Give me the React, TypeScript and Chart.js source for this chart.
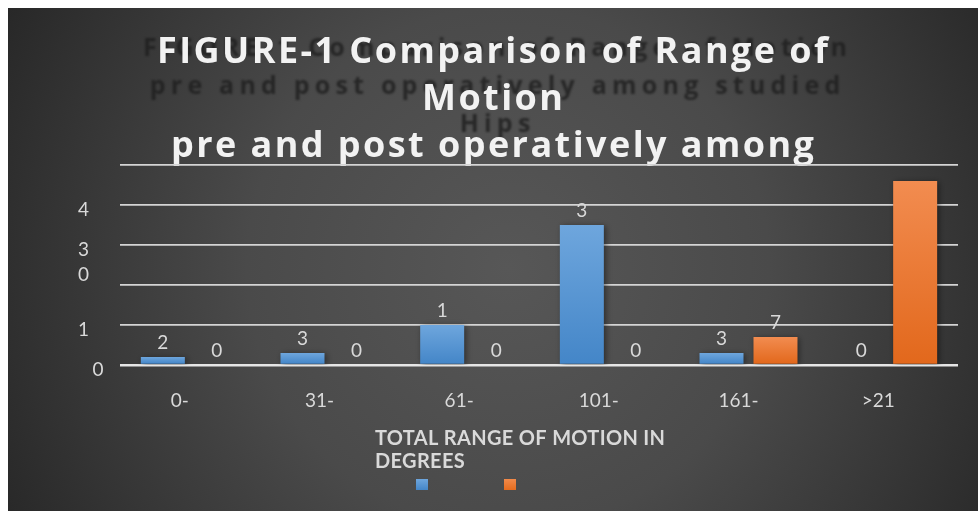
import React, { useEffect, useRef } from 'react';
import { Chart, registerables } from 'chart.js';

Chart.register(...registerables);

const CATEGORIES = ['0-', '31-', '61-', '101-', '161-', '>21'];
const PRE_VALUES = [2, 3, 10, 35, 3, 0];
const POST_VALUES = [0, 0, 0, 0, 7, 46];
const PRE_LABELS = ['2', '3', '1', '3', '3', '0'];
const POST_LABELS = ['0', '0', '0', '0', '7', ''];
const Y_TICK_VALUES = [0, 10, 20, 30, 40, 50];
const Y_TICK_LABELS: (string | string[])[] = ['   0', '1', '', ['', '3', '0'], '4', ''];
const TITLE_LINES = ['FIGURE-1 Comparison of Range of', 'Motion', 'pre and post operatively among'];
const GHOST_LINES = ['FIGURE-1 Comparison of Range of Motion', 'pre and post operatively among studied', 'Hips'];
const AXIS_TITLE_LINES = ['TOTAL RANGE OF MOTION IN', 'DEGREES'];

const FONT = 'Lato, "Open Sans", sans-serif';
const TITLE_FONT = '"Open Sans", Lato, sans-serif';
const TEXT = '#d9d9d9';

function spacingFor(ctx: CanvasRenderingContext2D, text: string, target: number) {
  (ctx as any).letterSpacing = '0px';
  const w0 = ctx.measureText(text).width;
  return (target - w0) / (text.length - 1);
}

function drawSpaced(ctx: CanvasRenderingContext2D, text: string, cx: number, y: number, ls: number) {
  (ctx as any).letterSpacing = '0px';
  const w0 = ctx.measureText(text).width;
  const w = w0 + ls * (text.length - 1);
  (ctx as any).letterSpacing = `${ls}px`;
  ctx.textAlign = 'left';
  ctx.fillText(text, cx - w / 2, y);
  (ctx as any).letterSpacing = '0px';
}

function barFill(top: string, bottom: string, solid: string) {
  return (c: any) => {
    const el = c.element;
    if (!el || !Number.isFinite(el.y) || !Number.isFinite(el.base) || Math.abs(el.base - el.y) < 1) return solid;
    const g = c.chart.ctx.createLinearGradient(0, el.y, 0, el.base);
    g.addColorStop(0, top);
    g.addColorStop(1, bottom);
    return g;
  };
}

const decor = {
  id: 'decor',
  beforeDraw(chart: any) {
    const { ctx, width, height } = chart;
    ctx.save();
    const g = ctx.createRadialGradient(500, 260, 0, 500, 260, 580);
    g.addColorStop(0, '#575757');
    g.addColorStop(0.45, '#4a4a4a');
    g.addColorStop(1, '#262626');
    ctx.fillStyle = g;
    ctx.fillRect(0, 0, width, height);

    // blurred ghost title behind the main one
    ctx.font = `bold 25px ${TITLE_FONT}`;
    ctx.fillStyle = 'rgba(30,30,30,0.8)';
    ctx.textBaseline = 'alphabetic';
    ctx.filter = 'blur(1.2px)';
    const gls = spacingFor(ctx, GHOST_LINES[0], 704);
    const ghostY = [48, 86, 124];
    GHOST_LINES.forEach((t, i) => drawSpaced(ctx, t, 487, ghostY[i], gls));
    ctx.filter = 'none';

    // main title
    ctx.font = `bold 36px ${TITLE_FONT}`;
    ctx.fillStyle = '#f2f2f2';
    const tls = spacingFor(ctx, TITLE_LINES[0], 671);
    const titleY = [55, 102, 149];
    TITLE_LINES.forEach((t, i) => drawSpaced(ctx, t, 484.5, titleY[i], tls));
    ctx.restore();
  },
  beforeDatasetsDraw(chart: any) {
    const ctx = chart.ctx;
    ctx.save();
    ctx.shadowColor = 'rgba(0,0,0,0.45)';
    ctx.shadowBlur = 6;
    ctx.shadowOffsetX = 2;
    ctx.shadowOffsetY = 1;
  },
  afterDatasetsDraw(chart: any) {
    const ctx = chart.ctx;
    ctx.restore();
    ctx.save();
    ctx.font = `19px ${FONT}`;
    ctx.fillStyle = TEXT;
    ctx.textAlign = 'center';
    ctx.textBaseline = 'middle';
    const labelSets = [PRE_LABELS, POST_LABELS];
    labelSets.forEach((labels, di) => {
      const meta = chart.getDatasetMeta(di);
      meta.data.forEach((el: any, i: number) => {
        const txt = labels[i];
        if (txt) ctx.fillText(txt, el.x, el.y - 14);
      });
    });
    ctx.restore();
  },
  afterDraw(chart: any) {
    const ctx = chart.ctx;
    ctx.save();
    ctx.font = `bold 20px ${FONT}`;
    ctx.fillStyle = TEXT;
    ctx.textAlign = 'left';
    ctx.textBaseline = 'alphabetic';
    const als = spacingFor(ctx, AXIS_TITLE_LINES[0], 290);
    (ctx as any).letterSpacing = `${als}px`;
    ctx.fillText(AXIS_TITLE_LINES[0], 367, 437);
    ctx.fillText(AXIS_TITLE_LINES[1], 367, 460);
    (ctx as any).letterSpacing = '0px';

    // legend markers
    const lb = ctx.createLinearGradient(0, 471, 0, 482);
    lb.addColorStop(0, '#6ea6dd');
    lb.addColorStop(1, '#4486c8');
    ctx.fillStyle = lb;
    ctx.fillRect(408, 471, 12, 11);
    const lo = ctx.createLinearGradient(0, 471, 0, 482);
    lo.addColorStop(0, '#f28a4a');
    lo.addColorStop(1, '#e66c1e');
    ctx.fillStyle = lo;
    ctx.fillRect(496, 471, 12, 11);
    ctx.restore();
  },
};

export default function App() {
  const ref = useRef<HTMLCanvasElement>(null);

  useEffect(() => {
    if (!ref.current) return;
    const chart = new Chart(ref.current, {
      type: 'bar',
      data: {
        labels: CATEGORIES,
        datasets: [
          {
            label: '',
            data: PRE_VALUES,
            backgroundColor: barFill('#6ea6dd', '#4486c8', '#5a9ad6'),
            categoryPercentage: 0.773,
            barPercentage: 0.815,
          },
          {
            label: '',
            data: POST_VALUES,
            backgroundColor: barFill('#f28c50', '#e2681c', '#ee7a30'),
            categoryPercentage: 0.773,
            barPercentage: 0.815,
          },
        ],
      },
      options: {
        responsive: false,
        animation: false,
        events: [],
        layout: { padding: { left: 70, right: 20, top: 157, bottom: 0 } },
        plugins: {
          legend: { display: false },
          title: { display: false },
          tooltip: { enabled: false },
        },
        scales: {
          x: {
            grid: { display: false, drawTicks: false },
            border: { display: false },
            ticks: {
              color: TEXT,
              font: { family: FONT, size: 19 },
              padding: 24,
              labelOffset: -10,
              autoSkip: false,
              maxRotation: 0,
            },
            afterFit: (s: any) => {
              s.height = 146;
            },
          },
          y: {
            min: 0,
            max: 50,
            grid: {
              color: (c: any) => (c.tick && c.tick.value === 0 ? '#e6e6e6' : '#d4d4d4'),
              lineWidth: (c: any) => (c.tick && c.tick.value === 0 ? 2.6 : 1.8),
              drawTicks: false,
            },
            border: { display: false },
            ticks: {
              stepSize: 10,
              autoSkip: false,
              color: TEXT,
              font: { family: FONT, size: 19, lineHeight: '25px' },
              crossAlign: 'far',
              labelOffset: 5,
              callback: (v: any) => {
                const i = Y_TICK_VALUES.indexOf(Number(v));
                return i >= 0 ? Y_TICK_LABELS[i] : '';
              },
            },
            afterFit: (s: any) => {
              s.width = 42;
            },
          },
        },
      },
      plugins: [decor],
    } as any);
    chart.update();
    return () => chart.destroy();
  }, []);

  return (
    <div style={{ position: 'fixed', left: 8, top: 8, width: 970, height: 503 }}>
      <canvas ref={ref} width={970} height={503} style={{ display: 'block' }} />
    </div>
  );
}
